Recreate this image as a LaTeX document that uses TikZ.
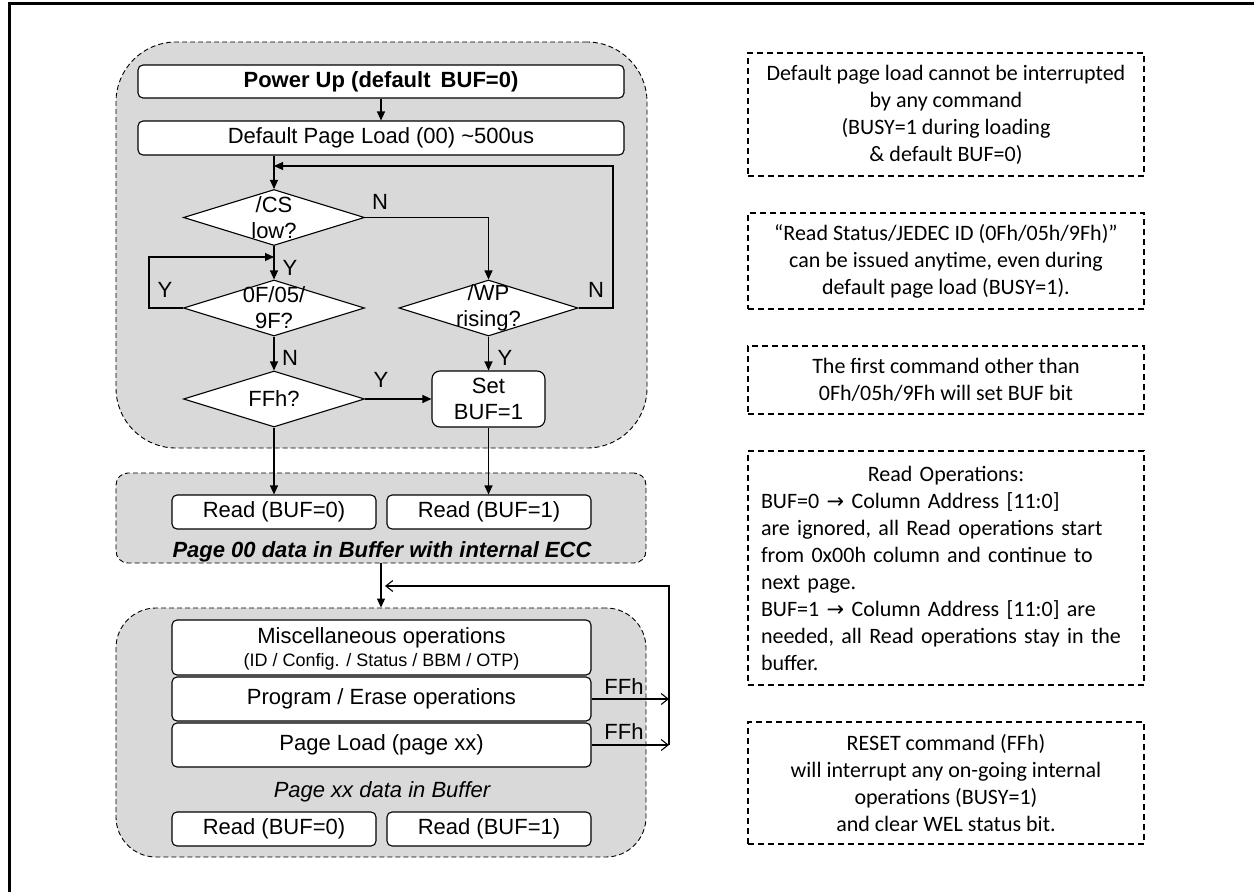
\documentclass[tikz,border=0pt]{standalone}
\usepackage{fontspec}
\setmainfont{Liberation Sans}
\newfontfamily\notefont{Carlito}
\newfontfamily\arrowfont{DejaVu Sans}
\usetikzlibrary{shapes.geometric,arrows.meta}
\definecolor{grpfill}{HTML}{D9D9D9}
\begin{document}
\begin{tikzpicture}[x=1bp,y=-1bp,
  fc/.style={font=\fontsize{22bp}{26bp}\selectfont},
  lbl/.style={fc,inner sep=0pt},
  box/.style={draw,fill=white,rounded corners=5bp,line width=1.1bp,inner sep=0pt,fc},
  dia/.style={diamond,draw,fill=white,line width=1.1bp,inner sep=0pt,minimum width=181bp,minimum height=56bp},
  grp/.style={draw,fill=grpfill,line width=0.9bp,dash pattern=on 5bp off 3bp,inner sep=0pt},
  arr/.style={-{Triangle[length=9bp,width=8bp]},line width=1.1bp},
  oarr/.style={-{Straight Barb[length=7bp,width=11bp]},line width=1.1bp},
  note/.style={draw,dash pattern=on 6bp off 4bp,line width=1.1bp,minimum width=396bp,inner sep=0pt,align=center,font=\notefont\fontsize{22bp}{27bp}\selectfont}
]
\useasboundingbox (0,0) rectangle (1254,892);
\draw[line width=3bp] (9.5,892) -- (9.5,3.5) -- (1254,3.5);

% groups
\node[grp,rounded corners=60bp,minimum width=531bp,minimum height=406bp] (g1) at (381.5,245) {};
\node[grp,rounded corners=12bp,minimum width=530bp,minimum height=90bp] (g2) at (381,518) {};
\node[grp,rounded corners=40bp,minimum width=530bp,minimum height=249bp] (g3) at (381,732.5) {};

% top flow
\node[box,minimum width=486bp,minimum height=33bp,font=\fontsize{22bp}{26bp}\selectfont\bfseries] (pu) at (381,81.5) {Power Up (default\hspace{4bp} BUF=0)};
\node[box,minimum width=486bp,minimum height=34bp] (dpl) at (381,138) {Default Page Load (00) \textasciitilde500us};
\node[dia] (cs) at (274,217.5) {};
\node[fc,align=center,inner sep=0pt] at (cs) {/CS\\low?};
\node[dia] (f0) at (274,308) {};
\node[fc,align=center,inner sep=0pt] at (f0) {0F/05/\\9F?};
\node[dia,minimum width=179bp] (wp) at (488.5,308) {};
\node[fc,align=center,inner sep=0pt] at (wp) {/WP\\rising?};
\node[dia] (ffh) at (274,399) {};
\node[fc,inner sep=0pt] at (ffh) {FFh?};
\node[box,rounded corners=8bp,minimum width=113bp,minimum height=56bp,align=center] (sb) at (488.5,399) {Set\\BUF=1};

% middle group
\node[box,minimum width=204bp,minimum height=34bp] (r0) at (274,512) {Read (BUF=0)};
\node[box,minimum width=204bp,minimum height=34bp] (r1) at (489,512) {Read (BUF=1)};
\node[fc,font=\fontsize{22bp}{26bp}\selectfont\bfseries\itshape,inner sep=0pt] (t00) at (382,552) {Page 00 data in Buffer with internal ECC};

% bottom group
\node[box,minimum width=419bp,minimum height=55bp] (misc) at (381.5,647.5) {};
\node[lbl] at (381.5,638) {Miscellaneous operations};
\node[inner sep=0pt,font=\fontsize{18bp}{20bp}\selectfont] at (381.5,662) {(ID / Config. / Status / BBM / OTP)};
\node[box,minimum width=419bp,minimum height=44bp] (prog) at (381.5,699) {Program / Erase operations};
\node[box,minimum width=419bp,minimum height=44bp] (pl) at (381.5,745) {Page Load (page xx)};
\node[lbl,font=\fontsize{22bp}{26bp}\selectfont\itshape] (txx) at (382,792) {Page xx data in Buffer};
\node[box,minimum width=204bp,minimum height=34bp] (r0b) at (274,829) {Read (BUF=0)};
\node[box,minimum width=204bp,minimum height=34bp] (r1b) at (489,829) {Read (BUF=1)};

% connectors
\draw[arr] (pu) -- (dpl);
\draw[arr] (dpl.south -| cs.north) -- (cs.north);
\coordinate (fbr) at (613,166);
\draw[arr] (wp.east) -| (fbr) -- (fbr -| cs.north);
\draw[arr] (cs.east) -| (wp.north);
\draw[arr] (cs.south) -- (f0.north);
\coordinate (lpl) at (149,257);
\draw[arr] (f0.west) -| (lpl) -- (lpl -| cs.south);
\draw[arr] (f0.south) -- (ffh.north);
\draw[arr] (wp.south) -- (sb.north);
\draw[arr] (ffh.east) -- (sb.west);
\draw[arr] (ffh.south) -- (r0.north);
\draw[arr] (sb.south) -- (sb.south |- r1.north);
\draw[arr] (g2.south) -- (g3.north);
\coordinate (fbb) at (669,586);
\coordinate (fbt) at (385,586);
\draw[oarr] (prog.east) -- (prog.east -| fbb);
\draw[oarr] (pl.east) -- (pl.east -| fbb);
\draw[oarr] (pl.east -| fbb) -- (fbb) -- (fbt);

% labels
\node[lbl] at (380,202) {N};
\node[lbl] at (290,268) {Y};
\node[lbl] at (165,290) {Y};
\node[lbl] at (596,290) {N};
\node[lbl] at (290,358) {N};
\node[lbl] at (505,358) {Y};
\node[lbl] at (381,380) {Y};
\node[lbl] at (624,687) {FFh};
\node[lbl] at (624,732) {FFh};

% notes
\node[note,minimum height=123bp] (n1) at (946,114.5) {Default page load cannot be interrupted\\by any command\\(BUSY=1 during loading\\\& default BUF=0)};
\node[note,minimum height=96bp] (n2) at (946,261) {“Read Status/JEDEC ID (0Fh/05h/9Fh)”\\can be issued anytime, even during\\default page load (BUSY=1).};
\node[note,minimum height=68bp] (n3) at (946,380) {The first command other than\\0Fh/05h/9Fh will set BUF bit};
\node[note,minimum height=234bp,text width=370bp,inner xsep=13bp,align=left] (n4) at (946,568) {\makebox[\linewidth]{Read Operations:}\\BUF=0 {\arrowfont\fontsize{21bp}{27bp}\selectfont →} Column Address [11:0]\\are ignored, all Read operations start\\from 0x00h column and continue to\\next page.\\BUF=1 {\arrowfont\fontsize{21bp}{27bp}\selectfont →} Column Address [11:0] are\\needed, all Read operations stay in the\\buffer.};
\node[note,minimum height=122bp] (n5) at (946,783) {RESET command (FFh)\\will interrupt any on-going internal\\operations (BUSY=1)\\and clear WEL status bit.};
\end{tikzpicture}
\end{document}
